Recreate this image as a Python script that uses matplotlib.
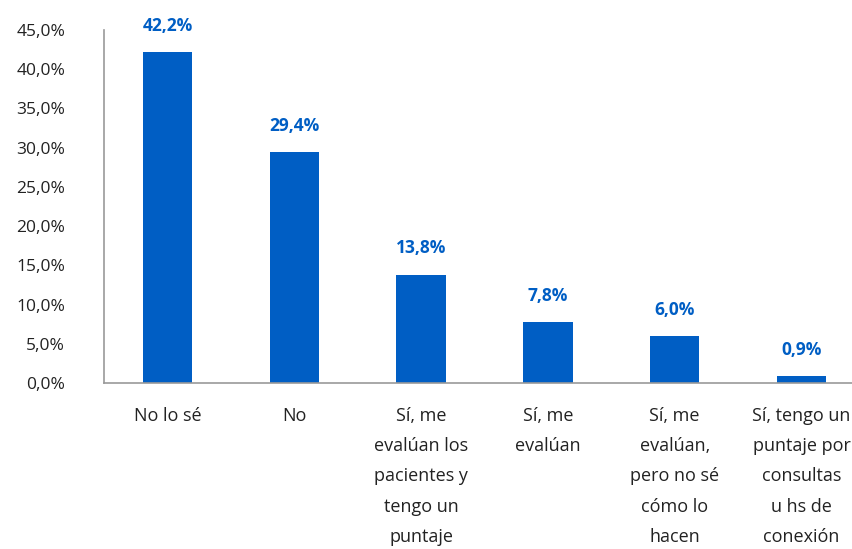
import matplotlib.pyplot as plt
import numpy as np

categories = ["No lo sé", "No", "Sí, me\nevalúan los\npacientes y\ntengo un\npuntaje",
              "Sí, me\nevalúan", "Sí, me\nevalúan,\npero no sé\ncómo lo\nhacen",
              "Sí, tengo un\npuntaje por\nconsultas\nu hs de\nconexión"]
values = [42.2, 29.4, 13.8, 7.8, 6.0, 0.9]
yticks = [0, 5, 10, 15, 20, 25, 30, 35, 40, 45]

blue = "#005EC4"
plt.rcParams['font.family'] = ['Open Sans', 'DejaVu Sans']

fig = plt.figure(figsize=(8.53, 5.49), dpi=100)
ax = fig.add_axes([104/853, 166/549, 761/853, 353/549])

x = np.arange(len(values))
ax.bar(x, values, width=0.39, color=blue)
for xi, v in zip(x, values):
    ax.text(xi, v + 2.2, f"{v:.1f}%".replace(".", ","), ha="center", va="bottom",
            color=blue, fontsize=12.5, fontweight="bold")

ax.set_xlim(-0.5, 5.5)
ax.set_ylim(0, 45)
ax.set_yticks(yticks)
ax.set_yticklabels([f"{t:.1f}%".replace(".", ",") for t in yticks], fontsize=12.5, color="#222222")
ax.set_xticks(x)
ax.set_xticklabels(categories, fontsize=13, color="#222222", linespacing=1.88, va="top")
ax.tick_params(axis="both", length=0)
ax.tick_params(axis="y", pad=28)
ax.tick_params(axis="x", pad=17)
for s in ["top", "right"]:
    ax.spines[s].set_visible(False)
for s in ["left", "bottom"]:
    ax.spines[s].set_color("#999999")
    ax.spines[s].set_linewidth(1.2)
ax.spines["left"].set_bounds(0, 45)

fig.savefig("out.png", dpi=100)
